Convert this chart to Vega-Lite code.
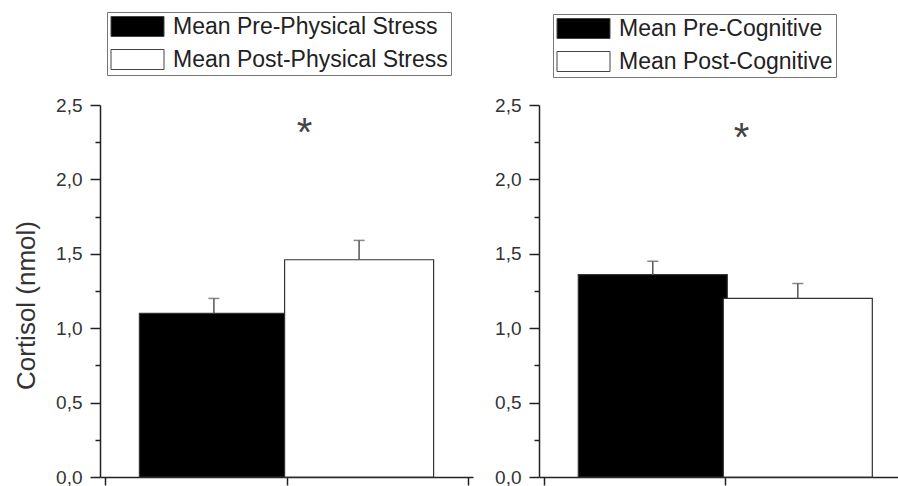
{
  "$schema": "https://vega.github.io/schema/vega-lite/v6.json",
  "background": "white",
  "padding": {"left": 13, "top": 11, "right": 0, "bottom": 0},
  "spacing": 21,
  "config": {
    "view": {"stroke": null},
    "font": "Liberation Sans",
    "axis": {
      "domainColor": "#222", "tickColor": "#222", "domainWidth": 1.5, "tickWidth": 1.5,
      "labelColor": "#333", "labelFont": "Liberation Sans", "labelFontSize": 19,
      "grid": false, "titleFont": "Liberation Sans", "titleFontWeight": "normal",
      "titleColor": "#333", "titleFontSize": 26
    },
    "legend": {
      "orient": "none", "title": null,
      "symbolType": "M-2.65,-1H2.65V1H-2.65Z", "symbolSize": 400, "symbolOffset": 16,
      "symbolStrokeColor": "#444", "symbolStrokeWidth": 1,
      "labelOffset": 24, "labelFontSize": 23, "labelFont": "Liberation Sans", "labelColor": "#222",
      "labelExpr": "datum.label + '  '",
      "strokeColor": "#777", "padding": 3, "rowPadding": 8, "labelLimit": 400
    }
  },
  "datasets": {
    "phys": [
      {"series": "Mean Pre-Physical Stress", "pos": 0.6, "mean": 1.10, "upper": 1.20},
      {"series": "Mean Post-Physical Stress", "pos": 1.4, "mean": 1.46, "upper": 1.59}
    ],
    "cog": [
      {"series": "Mean Pre-Cognitive", "pos": 0.6, "mean": 1.36, "upper": 1.45},
      {"series": "Mean Post-Cognitive", "pos": 1.4, "mean": 1.20, "upper": 1.30}
    ],
    "starPhys": [
      {"pos": 1.1, "y": 2.35, "label": "*"}
    ],
    "starCog": [
      {"pos": 1.09, "y": 2.32, "label": "*"}
    ]
  },
  "hconcat": [
    {
      "width": 373, "height": 372,
      "data": {"name": "phys"},
      "layer": [
        {
          "mark": {"type": "bar", "width": 149, "stroke": "#333", "strokeWidth": 1.2},
          "encoding": {
            "x": {"field": "pos", "type": "quantitative", "scale": {"domain": [0, 2], "nice": false, "zero": false},
                  "axis": {"values": [0, 1, 2], "labels": false, "title": null, "tickSize": 8}},
            "y": {"field": "mean", "type": "quantitative", "stack": null, "scale": {"domain": [0, 2.5], "nice": false},
                  "axis": {"orient": "left", "values": [0, 0.5, 1, 1.5, 2, 2.5], "tickSize": 10, "labelPadding": 8,
                           "labelExpr": "replace(format(datum.value, '.1f'), '.', ',')",
                           "title": "Cortisol (nmol)", "titlePadding": 16, "titleY": 200}},
            "fill": {"field": "series", "type": "nominal",
                     "scale": {"domain": ["Mean Pre-Physical Stress", "Mean Post-Physical Stress"], "range": ["#000000", "#ffffff"]},
                     "legend": {"legendX": 7, "legendY": -93}}
          }
        },
        {
          "mark": {"type": "rule", "color": "#555", "strokeWidth": 1.5},
          "encoding": {
            "x": {"field": "pos", "type": "quantitative"},
            "y": {"field": "mean", "type": "quantitative",
                  "axis": {"orient": "left", "values": [0.25, 0.75, 1.25, 1.75, 2.25], "tickSize": 5, "labels": false, "domain": false, "title": null}},
            "y2": {"field": "upper"}
          }
        },
        {
          "mark": {"type": "tick", "orient": "horizontal", "size": 11, "thickness": 1.5, "color": "#555"},
          "encoding": {
            "x": {"field": "pos", "type": "quantitative"},
            "y": {"field": "upper", "type": "quantitative", "axis": null}
          }
        },
        {
          "data": {"name": "starPhys"},
          "mark": {"type": "text", "font": "Liberation Sans", "fontSize": 40, "color": "#444", "baseline": "alphabetic", "dy": 19},
          "encoding": {
            "x": {"field": "pos", "type": "quantitative"},
            "y": {"field": "y", "type": "quantitative", "axis": null},
            "text": {"field": "label"}
          }
        }
      ],
      "resolve": {"axis": {"y": "independent"}}
    },
    {
      "width": 361, "height": 372,
      "data": {"name": "cog"},
      "layer": [
        {
          "mark": {"type": "bar", "width": 149, "stroke": "#333", "strokeWidth": 1.2},
          "encoding": {
            "x": {"field": "pos", "type": "quantitative", "scale": {"domain": [0, 1.936], "nice": false, "zero": false},
                  "axis": {"values": [0, 1], "labels": false, "title": null, "tickSize": 8}},
            "y": {"field": "mean", "type": "quantitative", "stack": null, "scale": {"domain": [0, 2.5], "nice": false},
                  "axis": {"orient": "left", "values": [0, 0.5, 1, 1.5, 2, 2.5], "tickSize": 10, "labelPadding": 8,
                           "labelExpr": "replace(format(datum.value, '.1f'), '.', ',')", "title": null}},
            "fill": {"field": "series", "type": "nominal",
                     "scale": {"domain": ["Mean Pre-Cognitive", "Mean Post-Cognitive"], "range": ["#000000", "#ffffff"]},
                     "legend": {"legendX": 14, "legendY": -91}}
          }
        },
        {
          "mark": {"type": "rule", "color": "#555", "strokeWidth": 1.5},
          "encoding": {
            "x": {"field": "pos", "type": "quantitative"},
            "y": {"field": "mean", "type": "quantitative",
                  "axis": {"orient": "left", "values": [0.25, 0.75, 1.25, 1.75, 2.25], "tickSize": 5, "labels": false, "domain": false, "title": null}},
            "y2": {"field": "upper"}
          }
        },
        {
          "mark": {"type": "tick", "orient": "horizontal", "size": 11, "thickness": 1.5, "color": "#555"},
          "encoding": {
            "x": {"field": "pos", "type": "quantitative"},
            "y": {"field": "upper", "type": "quantitative", "axis": null}
          }
        },
        {
          "data": {"name": "starCog"},
          "mark": {"type": "text", "font": "Liberation Sans", "fontSize": 40, "color": "#444", "baseline": "alphabetic", "dy": 19},
          "encoding": {
            "x": {"field": "pos", "type": "quantitative"},
            "y": {"field": "y", "type": "quantitative", "axis": null},
            "text": {"field": "label"}
          }
        }
      ],
      "resolve": {"axis": {"y": "independent"}}
    }
  ],
  "resolve": {"scale": {"fill": "independent", "x": "independent", "y": "independent"}, "legend": {"fill": "independent"}}
}
